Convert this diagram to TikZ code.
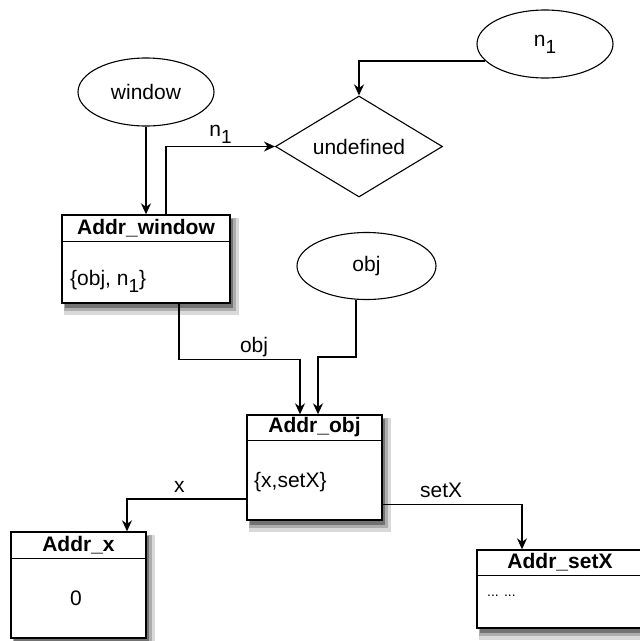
\documentclass[tikz,border=0pt]{standalone}
\usepackage{fontspec}
\setmainfont{Liberation Sans}
\usetikzlibrary{positioning, arrows.meta, shapes.geometric}
\newcommand{\nsub}{n\raisebox{-7pt}{\fontsize{19}{19}\selectfont 1}}

\begin{document}
\begin{tikzpicture}[x=1pt, y=-1pt, font=\fontsize{21}{25}\selectfont]
    \tikzset{
        addrbox/.style={rectangle, draw, line width=1.4pt, inner sep=0pt},
        varell/.style={ellipse, draw, line width=1.1pt, minimum width=136pt, minimum height=68pt, inner sep=0pt},
        link/.style={draw, line width=1.3pt, -{Stealth[length=11pt, width=10pt]}},
        hdr/.style={font=\fontsize{21}{25}\selectfont\bfseries},
        sepline/.style={line width=1.2pt},
        shadowstrip/.style={fill=black!#1},
    }
    \useasboundingbox (0,0) rectangle (640,641);

    % variables
    \node[varell] (windowvar) at (146,92) {window};
    \node[varell] (nvar) at (545,44) {\nsub};
    \node[varell, minimum width=139pt, minimum height=67pt] (objvar) at (366.5,266) {obj};
    \node[diamond, draw, line width=1.1pt, aspect=1.65, inner sep=0pt,
          minimum width=167pt, minimum height=101pt] (undef) at (359,146.5) {undefined};

    % address boxes
    \node[addrbox, minimum width=168pt, minimum height=88pt] (winbox) at (146,259) {};
    \draw[sepline] ([yshift=-27pt]winbox.north west) -- ([yshift=-27pt]winbox.north east);
    \node[hdr] (winhdr) at ([yshift=-13.5pt]winbox.north) {Addr\_window};
    \node[anchor=west, inner sep=0pt] (winbody) at (70,281) {\{obj, \nsub\}};

    \node[addrbox, minimum width=135pt, minimum height=105pt] (objbox) at (314.5,467.5) {};
    \draw[sepline] ([yshift=-26pt]objbox.north west) -- ([yshift=-26pt]objbox.north east);
    \node[hdr] (objhdr) at ([yshift=-13pt]objbox.north) {Addr\_obj};
    \node[anchor=west, inner sep=0pt] (objbody) at (254,482) {\{x,setX\}};

    \node[addrbox, minimum width=135pt, minimum height=106pt] (xbox) at (78.5,585) {};
    \draw[sepline] ([yshift=-27pt]xbox.north west) -- ([yshift=-27pt]xbox.north east);
    \node[hdr] (xhdr) at ([yshift=-13.5pt]xbox.north) {Addr\_x};
    \node (xbody) at (76,598) {0};

    \node[addrbox, minimum width=166pt, minimum height=78pt] (setxbox) at (560,589) {};
    \draw[sepline] ([yshift=-26pt]setxbox.north west) -- ([yshift=-26pt]setxbox.north east);
    \node[hdr] (setxhdr) at ([yshift=-13pt]setxbox.north) {Addr\_setX};
    \node[anchor=west, inner sep=0pt, font=\fontsize{14}{16}\selectfont] (setxbody) at (487,596) {... ...};

    % shadows along the lower and right edges
    \foreach \bx in {winbox, objbox, xbox, setxbox} {
        \fill[shadowstrip=15] ([xshift=3pt, yshift=-0.7pt]\bx.south west)
            rectangle ([xshift=8pt, yshift=-11pt]\bx.south east);
        \fill[shadowstrip=15] ([xshift=0.7pt, yshift=-4pt]\bx.north east)
            rectangle ([xshift=8pt, yshift=-0.7pt]\bx.south east);
        \fill[shadowstrip=32] ([xshift=3pt, yshift=-0.7pt]\bx.south west)
            rectangle ([xshift=5pt, yshift=-7pt]\bx.south east);
        \fill[shadowstrip=32] ([xshift=0.7pt, yshift=-4pt]\bx.north east)
            rectangle ([xshift=5pt, yshift=-0.7pt]\bx.south east);
        \fill[shadowstrip=55] ([xshift=4pt, yshift=-0.7pt]\bx.south west)
            rectangle ([xshift=2.5pt, yshift=-4pt]\bx.south east);
        \fill[shadowstrip=55] ([xshift=0.7pt, yshift=-5pt]\bx.north east)
            rectangle ([xshift=2.5pt, yshift=-0.7pt]\bx.south east);
    }

    % links
    \draw[link] (windowvar.south) -- (winbox.north);
    \draw[link] ([xshift=20pt]winbox.north) |- (undef.west)
        node[pos=0.75, above, inner sep=2pt] {\nsub};
    \draw[link] (nvar.196) -| (undef.north);
    \draw[link] ([xshift=33pt]winbox.south) -- ++(0,56) -| ([xshift=-14.5pt]objbox.north)
        node[pos=0.31, above, inner sep=2pt] {obj};
    \draw[link] ([xshift=-10.5pt]objvar.south) -- ++(0,57) -| ([xshift=3.5pt]objbox.north);
    \draw[link] ([yshift=-31.5pt]objbox.west) -| ([xshift=48.5pt]xbox.north)
        node[pos=0.28, above, inner sep=6pt] {x};
    \draw[link] ([yshift=-37pt]objbox.east) -| ([xshift=-38pt]setxbox.north)
        node[pos=0.21, above, inner sep=6pt] {setX};
\end{tikzpicture}
\end{document}
